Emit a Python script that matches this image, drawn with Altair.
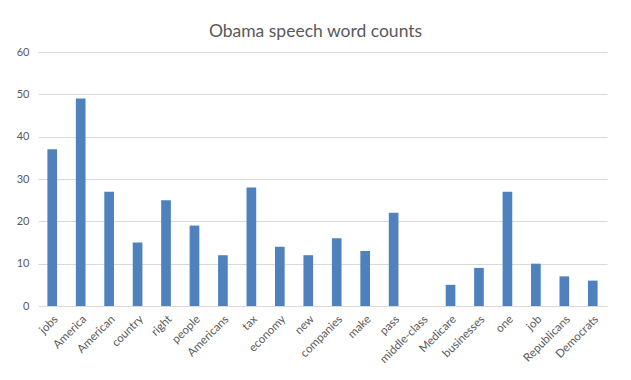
import altair as alt
import pandas as pd

words = ["jobs", "America", "American", "country", "right", "people", "Americans",
         "tax", "economy", "new", "companies", "make", "pass", "middle-class",
         "Medicare", "businesses", "one", "job", "Republicans", "Democrats"]
counts = [37, 49, 27, 15, 25, 19, 12, 28, 14, 12, 16, 13, 22, 0, 5, 9, 27, 10, 7, 6]

df = pd.DataFrame({"word": words, "count": counts})

FONT = "Lato"
GRAY = "#595959"

chart = alt.Chart(df).mark_bar(color="#4F81BD").encode(
    x=alt.X("word:N", sort=words, title=None,
            scale=alt.Scale(paddingInner=0.66, paddingOuter=0.33),
            axis=alt.Axis(labelAngle=-45, labelFontSize=11.5, labelColor=GRAY,
                          labelFont=FONT, ticks=False, domain=False, labelPadding=7)),
    y=alt.Y("count:Q", title=None,
            scale=alt.Scale(domain=[0, 60]),
            axis=alt.Axis(values=[0, 10, 20, 30, 40, 50, 60], labelFontSize=11,
                          labelColor=GRAY, labelFont=FONT, ticks=False, domain=False,
                          gridColor="#D9D9D9", labelPadding=9)),
).properties(
    width=569, height=254,
    title=alt.TitleParams("Obama speech word counts", fontSize=17.5, font=FONT,
                          color=GRAY, fontWeight="normal", anchor="middle",
                          offset=6, dx=-7),
    autosize=alt.AutoSizeParams(type="none"),
    padding={"left": 30, "top": 44, "right": 16, "bottom": 70},
).configure_view(stroke=None)

chart.save("out.html", embed_options={"renderer": "svg", "actions": False})
